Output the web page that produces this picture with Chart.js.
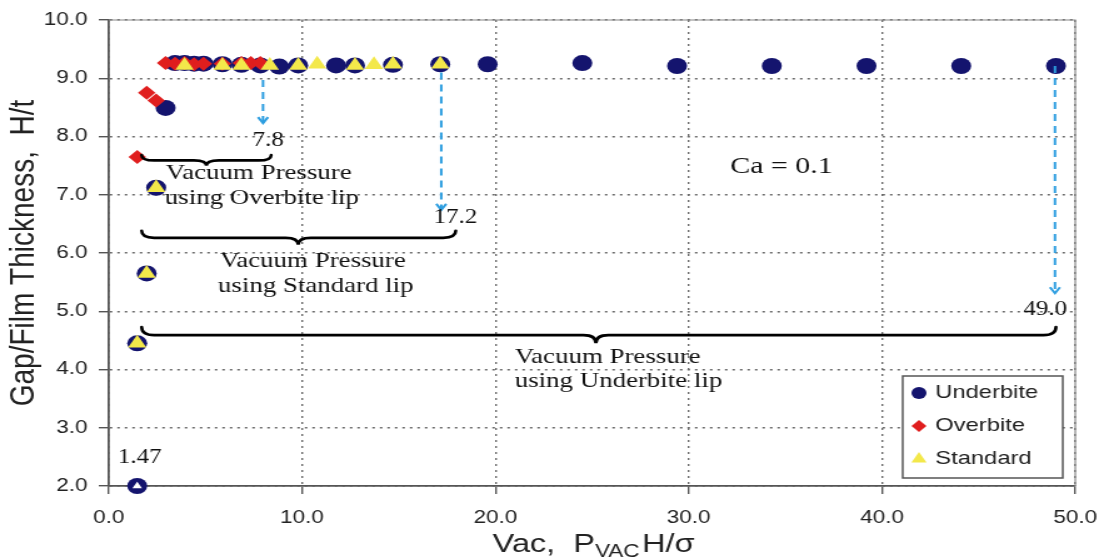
<!DOCTYPE html>
<html>
<head>
<meta charset="utf-8">
<script src="https://cdn.jsdelivr.net/npm/chart.js@4.4.0/dist/chart.umd.min.js"></script>
<style>
html, body { margin: 0; padding: 0; background: #fff; overflow: hidden; }
/* the reference is stretched sideways, so the chart is drawn narrow and widened */
#wrap { width: 883px; height: 558px; transform: scaleX(1.2503); transform-origin: 0 0; }
</style>
</head>
<body>
<div id="wrap"><canvas id="myChart"></canvas></div>
<script>
// data
const underbiteX = [1.47, 1.47, 1.96, 2.45, 2.94, 3.43, 3.92, 4.41, 4.90, 5.88, 6.86, 7.84, 8.82, 9.80, 11.76, 12.74, 14.70, 17.15, 19.60, 24.50, 29.40, 34.30, 39.20, 44.10, 49.00]
const underbiteY = [2.00, 4.45, 5.65, 7.12, 8.49, 9.26, 9.26, 9.25, 9.25, 9.24, 9.23, 9.22, 9.20, 9.22, 9.22, 9.22, 9.23, 9.24, 9.24, 9.26, 9.21, 9.21, 9.21, 9.21, 9.21]

const overbiteX = [1.47, 1.96, 2.45, 2.94, 3.43, 3.92, 4.41, 4.90, 5.88, 6.86, 7.35, 7.84]
const overbiteY = [7.65, 8.75, 8.62, 9.26, 9.25, 9.26, 9.24, 9.25, 9.25, 9.26, 9.26, 9.26]

const standardX = [1.47, 1.47, 1.96, 2.45, 3.92, 5.88, 6.86, 8.33, 9.80, 10.78, 12.74, 13.72, 14.70, 17.15]
const standardY = [2.00, 4.45, 5.65, 7.12, 9.22, 9.22, 9.22, 9.22, 9.22, 9.24, 9.22, 9.23, 9.24, 9.24]

const xTicks = [0, 10, 20, 30, 40, 50]
const yTicks = [2, 3, 4, 5, 6, 7, 8, 9, 10]

// annotations (in data units)
const arrows = [
    { x: 7.98, from: 8.97, to: 8.23, label: '7.8', lx: 8.24, ly: 7.92 },
    { x: 17.2, from: 9.10, to: 6.74, label: '17.2', lx: 17.93, ly: 6.60 },
    { x: 48.95, from: 9.21, to: 5.31, label: '49.0', lx: 48.45, ly: 5.02 }
]
const braces = [
    { x1: 1.70, x2: 8.40, tip: 5.05, top: 7.68, bottom: 7.50 },
    { x1: 1.70, x2: 17.95, tip: 9.80, top: 6.38, bottom: 6.14 },
    { x1: 1.70, x2: 49.00, tip: 25.20, top: 4.73, bottom: 4.45 }
]
const notes = [
    { x: 2.95, y: 7.37, text: 'Vacuum Pressure' },
    { x: 2.90, y: 6.94, text: 'using Overbite lip' },
    { x: 5.75, y: 5.85, text: 'Vacuum Pressure' },
    { x: 5.65, y: 5.43, text: 'using Standard lip' },
    { x: 21.0, y: 4.20, text: 'Vacuum Pressure' },
    { x: 21.0, y: 3.79, text: 'using Underbite lip' }
]

const NAVY = '#14146e'
const RED = '#e01e1e'
const YELLOW = '#f3e84a'

const toPts = (xs, ys) => xs.map((v, i) => ({ x: v, y: ys[i] }))

const extras = {
    id: 'extras',
    afterDatasetsDraw(chart) {
        const { ctx, chartArea: a, scales: { x, y } } = chart
        ctx.save()

        // plot frame top/right
        ctx.strokeStyle = '#888'
        ctx.lineWidth = 1.2
        ctx.beginPath()
        ctx.moveTo(a.left, a.top)
        ctx.lineTo(a.right, a.top)
        ctx.lineTo(a.right, a.bottom)
        ctx.stroke()

        // braces
        ctx.strokeStyle = '#000'
        ctx.lineWidth = 2.6
        ctx.lineCap = 'round'
        braces.forEach(b => {
            const x1 = x.getPixelForValue(b.x1), x2 = x.getPixelForValue(b.x2), xm = x.getPixelForValue(b.tip)
            const t = y.getPixelForValue(b.top), bt = y.getPixelForValue(b.bottom)
            const m = (t + bt) / 2
            const q = 10
            ctx.beginPath()
            ctx.moveTo(x1, t)
            ctx.quadraticCurveTo(x1, m, x1 + q, m)
            ctx.lineTo(xm - q, m)
            ctx.quadraticCurveTo(xm, m, xm, bt)
            ctx.quadraticCurveTo(xm, m, xm + q, m)
            ctx.lineTo(x2 - q, m)
            ctx.quadraticCurveTo(x2, m, x2, t)
            ctx.stroke()
        })

        // blue dashed arrows
        ctx.strokeStyle = '#2e9ee0'
        ctx.lineWidth = 2
        ctx.lineCap = 'butt'
        arrows.forEach(ar => {
            const px = x.getPixelForValue(ar.x)
            const y1 = y.getPixelForValue(ar.from), y2 = y.getPixelForValue(ar.to)
            ctx.setLineDash([7, 5])
            ctx.beginPath()
            ctx.moveTo(px, y1)
            ctx.lineTo(px, y2)
            ctx.stroke()
            ctx.setLineDash([])
            ctx.beginPath()
            ctx.moveTo(px - 4, y2 - 6)
            ctx.lineTo(px, y2)
            ctx.lineTo(px + 4, y2 - 6)
            ctx.stroke()
        })

        // serif labels
        ctx.fillStyle = '#111'
        ctx.textBaseline = 'middle'
        ctx.textAlign = 'center'
        ctx.font = '20px "Liberation Serif", serif'
        arrows.forEach(ar => {
            ctx.fillText(ar.label, x.getPixelForValue(ar.lx), y.getPixelForValue(ar.ly))
        })
        ctx.fillText('1.47', x.getPixelForValue(1.6), y.getPixelForValue(2.48))
        ctx.font = '24px "Liberation Serif", serif'
        ctx.fillText('Ca = 0.1', x.getPixelForValue(34.8), y.getPixelForValue(7.48))
        ctx.textAlign = 'left'
        ctx.font = '21.5px "Liberation Serif", serif'
        notes.forEach(n => {
            ctx.fillText(n.text, x.getPixelForValue(n.x), y.getPixelForValue(n.y))
        })
        ctx.restore()
    },
    afterDraw(chart) {
        const { ctx } = chart
        ctx.save()
        // x axis title with subscript
        ctx.fillStyle = '#222'
        ctx.textBaseline = 'alphabetic'
        ctx.textAlign = 'left'
        let cx = 394
        const base = 552
        ctx.font = '26px "Liberation Sans", Arial, sans-serif'
        ctx.fillText('Vac,  P', cx, base)
        cx += ctx.measureText('Vac,  P').width
        ctx.font = '18px "Liberation Sans", Arial, sans-serif'
        ctx.fillText('VAC', cx, base + 5)
        cx += ctx.measureText('VAC').width + 2
        ctx.font = '26px "Liberation Sans", Arial, sans-serif'
        ctx.fillText('H/\u03c3', cx, base)

        // legend box
        const lx = 722, ly = 376, lw = 128, lh = 102
        ctx.fillStyle = '#fff'
        ctx.fillRect(lx, ly, lw, lh)
        ctx.strokeStyle = '#555'
        ctx.lineWidth = 1.5
        ctx.strokeRect(lx, ly, lw, lh)
        const items = [
            { label: 'Underbite', style: 'circle', color: NAVY, r: 6 },
            { label: 'Overbite', style: 'rectRot', color: RED, r: 6 },
            { label: 'Standard', style: 'triangle', color: YELLOW, r: 7 }
        ]
        ctx.font = '19px "Liberation Sans", Arial, sans-serif'
        ctx.textBaseline = 'middle'
        items.forEach((it, i) => {
            const yy = ly + 17 + i * 33
            ctx.fillStyle = it.color
            Chart.helpers.drawPoint(ctx, { pointStyle: it.style, radius: it.r, borderWidth: 0 }, lx + 13, yy)
            ctx.fillStyle = '#222'
            ctx.fillText(it.label, lx + 26, yy)
        })
        ctx.restore()
    }
}

const dataChart = {
    datasets: [
        {
            label: 'Underbite',
            data: toPts(underbiteX, underbiteY),
            pointStyle: 'circle',
            pointRadius: 8,
            backgroundColor: NAVY,
            borderColor: NAVY,
            borderWidth: 0,
            order: 3,
            clip: false
        },
        {
            label: 'Overbite',
            data: toPts(overbiteX, overbiteY),
            pointStyle: 'rectRot',
            pointRadius: 7,
            backgroundColor: RED,
            borderColor: RED,
            borderWidth: 0,
            order: 2,
            clip: false
        },
        {
            label: 'Standard',
            data: toPts(standardX, standardY),
            pointStyle: 'triangle',
            backgroundColor: ctx => ctx.raw && ctx.raw.y === 2 ? '#fff' : YELLOW,
            borderColor: ctx => ctx.raw && ctx.raw.y === 2 ? NAVY : YELLOW,
            borderWidth: ctx => ctx.raw && ctx.raw.y === 2 ? 1.5 : 0,
            pointRadius: ctx => ctx.raw && ctx.raw.y === 2 ? 6 : 8.5,
            order: 1,
            clip: false
        }
    ]
}

const tickFont = { family: '"Liberation Sans", Arial, sans-serif', size: 18 }

const config = {
    type: 'scatter',
    data: dataChart,
    options: {
        responsive: true,
        maintainAspectRatio: false,
        animation: false,
        devicePixelRatio: 1,
        layout: { padding: { top: 20, right: 23, left: 0, bottom: 0 } },
        plugins: { legend: { display: false }, tooltip: { enabled: false } },
        scales: {
            x: {
                type: 'linear',
                min: 0, max: 50,
                afterFit: s => { s.height = 72; s.paddingLeft = 0; s.paddingRight = 0 },
                afterBuildTicks: s => { s.ticks = xTicks.map(v => ({ value: v })) },
                ticks: { color: '#222', font: tickFont, padding: 13, maxRotation: 0, callback: v => v.toFixed(1) },
                grid: { color: '#6a6a6a', lineWidth: 1.4, tickColor: '#555', tickLength: 8, tickBorderDash: [] },
                border: { display: true, color: '#555', width: 1.8, dash: [2, 4] }
            },
            y: {
                type: 'linear',
                min: 2, max: 10,
                afterFit: s => { s.width = 87 },
                afterBuildTicks: s => { s.ticks = yTicks.map(v => ({ value: v })) },
                ticks: { color: '#222', font: tickFont, padding: 9, callback: v => v.toFixed(1) },
                grid: { color: '#6a6a6a', lineWidth: 1.4, tickColor: '#555', tickLength: 8, tickBorderDash: [] },
                border: { display: true, color: '#555', width: 1.8, dash: [2, 4] },
                title: {
                    display: true,
                    text: 'Gap/Film Thickness,  H/t',
                    color: '#222',
                    font: { family: '"Liberation Sans", Arial, sans-serif', size: 28 },
                    padding: { top: 2, bottom: 0 }
                }
            }
        }
    },
    plugins: [extras]
}

const myChart = new Chart(document.getElementById('myChart'), config)
</script>
</body>
</html>
